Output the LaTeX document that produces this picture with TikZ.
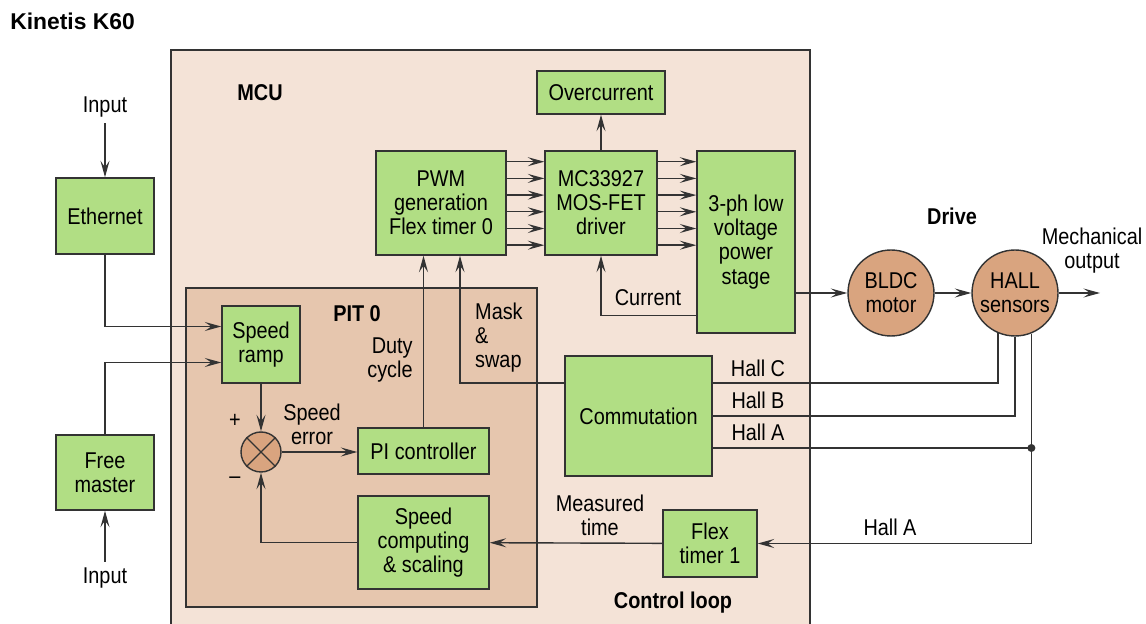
\documentclass[tikz,border=0pt]{standalone}
\usepackage{fontspec}
\setmainfont{Liberation Sans}[FakeStretch=0.87]
\newfontfamily\headfont{Liberation Sans}
\usetikzlibrary{arrows.meta,positioning,shapes.geometric}
\definecolor{mcubg}{HTML}{F4E3D7}
\definecolor{pitbg}{HTML}{E6C6AE}
\definecolor{blockgreen}{HTML}{B1DE84}
\definecolor{motortan}{HTML}{D9A47F}
\definecolor{wire}{HTML}{333333}

\begin{document}
\begin{tikzpicture}[x=0.02cm, y=-0.02cm,
    font=\fontsize{13}{13.7}\selectfont,
    box/.style={draw=wire, line width=0.8pt, fill=blockgreen, inner sep=0pt, align=center},
    disc/.style={draw=wire, line width=0.8pt, fill=motortan, circle, inner sep=0pt, align=center},
    arrow/.style={-{Stealth[length=3.3mm,width=1.8mm,inset=1.3mm]}, draw=wire, line width=0.8pt},
    link/.style={draw=wire, line width=0.8pt},
    title/.style={font=\fontsize{13}{13.7}\selectfont\bfseries}
  ]
  \useasboundingbox (0,0) rectangle (1146,624);
  % frames
  \draw[link, fill=mcubg] (171,50) rectangle (810,640);
  \draw[link, fill=pitbg] (186,288) rectangle (537,607);
  \node[title, font=\headfont\fontsize{13}{13.7}\selectfont\bfseries, anchor=west, inner sep=0pt] (k60) at (10,21) {Kinetis K60};
  \node[title] (mcu) at (260,93) {MCU};
  \node[title] (pit) at (357,314) {PIT 0};
  \node[title] (drive) at (952,216) {Drive};
  \node[title] (loop) at (673,603) {Control loop};

  % blocks
  \node[box, minimum width=1.96cm, minimum height=1.52cm] (eth) at (105,216) {Ethernet};
  \node[box, minimum width=1.96cm, minimum height=1.5cm] (fm) at (105,472.5) {Free\\master};
  \node (in1) at (105,107) {Input};
  \node (in2) at (105,578) {Input};
  \node[box, minimum width=1.56cm, minimum height=1.54cm] (ramp) at (261,344.5) {Speed\\ramp};
  \node[disc, minimum size=0.8cm] (sum) at (261,452) {};
  \node[box, minimum width=2.62cm, minimum height=0.92cm] (pi) at (423.5,451) {PI controller};
  \node[box, minimum width=2.62cm, minimum height=1.86cm] (speed) at (423.5,542.5) {Speed\\computing\\\& scaling};
  \node[box, minimum width=2.6cm, minimum height=2.08cm] (pwm) at (441,203) {PWM\\generation\\Flex timer 0};
  \node[box, minimum width=2.24cm, minimum height=2.08cm] (drv) at (601,203) {MC33927\\MOS-FET\\driver};
  \node[box, minimum width=2.56cm, minimum height=0.86cm] (oc) at (601,92.5) {Overcurrent};
  \node[box, minimum width=1.96cm, minimum height=3.64cm] (stage) at (746,242) {3-ph low\\voltage\\power\\stage};
  \node[box, minimum width=2.94cm, minimum height=2.4cm] (comm) at (638.5,416) {Commutation};
  \node[box, minimum width=1.88cm, minimum height=1.34cm] (flex) at (710,543.5) {Flex\\timer 1};
  \node[disc, minimum size=1.72cm] (motor) at (891,293) {BLDC\\motor};
  \node[disc, minimum size=1.72cm] (hall) at (1015,293) {HALL\\sensors};
  \coordinate (out) at (1100,293);

  % labels
  \node at (235,421) {+};
  \node at (235,480) {–};
  \node[align=center] at (312,424) {Speed\\error};
  \node[align=right] at (390,360) {Duty\\cycle};
  \node[align=left, anchor=west] at (469,338) {Mask\\\&\\swap};
  \node at (648,298) {Current};
  \node at (758,368) {Hall C};
  \node at (758,400) {Hall B};
  \node at (758,432) {Hall A};
  \node[align=center] at (600,515) {Measured\\time};
  \node at (890,527) {Hall A};
  \node[align=center] at (1092,251) {Mechanical\\output};

  % connectors
  \draw[arrow] (in1) -- (eth);
  \draw[arrow] (in2) -- (fm);
  \draw[arrow] (eth.south) |- ([yshift=0.36cm]ramp.west);
  \draw[arrow] (fm.north) |- ([yshift=-0.36cm]ramp.west);
  \draw[arrow] (ramp) -- (sum);
  \draw[link] (sum.45) -- (sum.225) (sum.135) -- (sum.-45);
  \draw[arrow] (sum.east) -- (pi.west |- sum.east);
  \draw[arrow] (speed.west) -| (sum.south);
  \draw[arrow] (pi.north) -- (pi.north |- pwm.south);
  \draw[arrow] ([yshift=0.66cm]comm.west) -| ([xshift=0.38cm]pwm.south);
  \foreach \k in {0,...,5} {
    \draw[arrow] (pwm.east |- 0,{161.7+16.7*\k}) -- (drv.west |- 0,{161.7+16.7*\k});
    \draw[arrow] (drv.east |- 0,{161.7+16.7*\k}) -- (stage.west |- 0,{161.7+16.7*\k});
  }
  \draw[arrow] (drv) -- (oc);
  \draw[arrow] ([yshift=0.36cm]stage.south west) -| (drv.south);
  \draw[arrow] (stage.east |- motor) -- (motor);
  \draw[arrow] (motor) -- (hall);
  \draw[arrow] (hall) -- (out);
  \draw[link] ([yshift=0.66cm]comm.east) -| (hall.-113);
  \draw[link] (comm.east) -| (hall.south);
  \coordinate (tap) at ([yshift=-0.64cm]comm.east -| hall.-68);
  \draw[link] ([yshift=-0.64cm]comm.east) -- (tap);
  \fill[wire] (tap) circle (4);
  \draw[arrow] (hall.-68) |- (flex.east);
  \draw[arrow] (flex) -- (speed);
\end{tikzpicture}
\end{document}
